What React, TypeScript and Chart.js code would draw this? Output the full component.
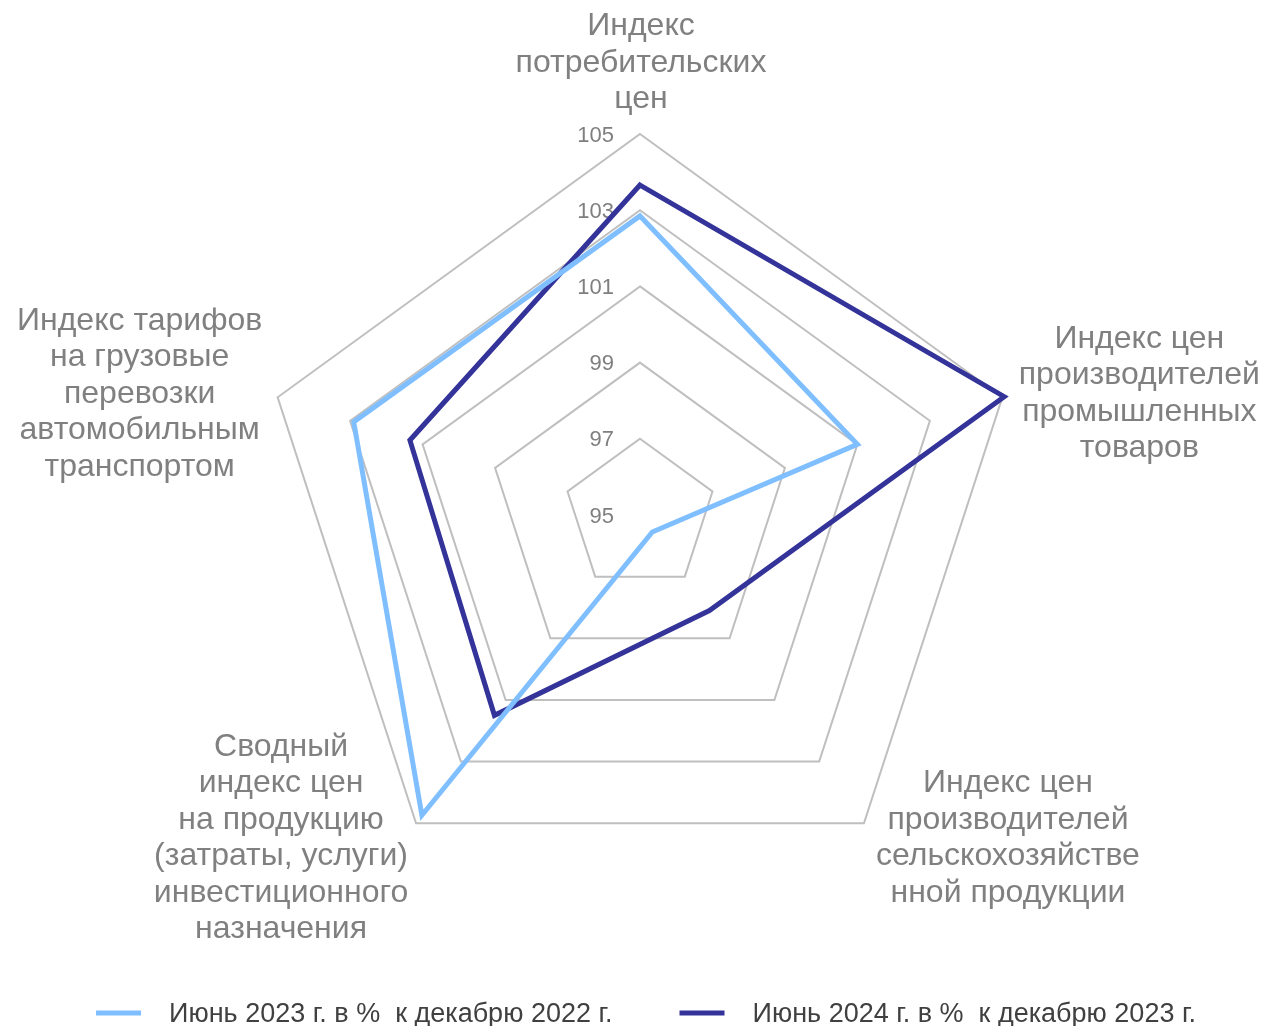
import React, { useEffect, useRef } from "react";
import { Chart, registerables } from "chart.js";

Chart.register(...registerables);

// ---- data ----
const categories: string[][] = [
  ["Индекс", "потребительских", "цен"],
  ["Индекс цен", "производителей", "промышленных", "товаров"],
  ["Индекс цен", "производителей", "сельскохозяйстве", "нной продукции"],
  ["Сводный", "индекс цен", "на продукцию", "(затраты, услуги)", "инвестиционного", "назначения"],
  ["Индекс тарифов", "на грузовые", "перевозки", "автомобильным", "транспортом"],
];
const seriesNames = [
  "Июнь 2023 г. в %  к декабрю 2022 г.",
  "Июнь 2024 г. в %  к декабрю 2023 г.",
];
const june2023 = [102.85, 101.0, 95.55, 104.74, 102.9];
const june2024 = [103.66, 105.05, 98.1, 101.5, 101.35];
const scaleMin = 95;
const scaleMax = 105;
const scaleStep = 2;

// ---- styles ----
const FONT = '"Liberation Sans", Arial, sans-serif';
const COLORS = ["#7FBFFF", "#333399"];
const LABEL_OFFSETS: [number, number][] = [
  [1, -71],
  [137, -3.5],
  [144, 15],
  [-135, 15],
  [-138, -3.5],
];
const LABEL_LH = 36.5;

const customPlugin = {
  id: "customText",
  beforeDatasetsDraw(chart: any) {
    const scale = chart.scales.r;
    const ctx = chart.ctx;
    ctx.save();
    ctx.font = `22px ${FONT}`;
    ctx.fillStyle = "#7F7F7F";
    ctx.textAlign = "right";
    ctx.textBaseline = "middle";
    scale.ticks.forEach((t: any) => {
      const d = scale.getDistanceFromCenterForValue(t.value);
      ctx.fillText(String(t.value), scale.xCenter - 26, scale.yCenter - d + 1.5);
    });
    ctx.restore();
  },
  afterDraw(chart: any) {
    const scale = chart.scales.r;
    const ctx = chart.ctx;
    ctx.save();
    // category labels
    ctx.font = `32px ${FONT}`;
    ctx.fillStyle = "#808080";
    ctx.textAlign = "center";
    ctx.textBaseline = "middle";
    (chart.data.labels as string[][]).forEach((lines, i) => {
      const p = scale.getPointPosition(i, scale.drawingArea);
      const cx = p.x + LABEL_OFFSETS[i][0];
      const cy = p.y + LABEL_OFFSETS[i][1];
      lines.forEach((line, k) => {
        ctx.fillText(line, cx, cy + (k - (lines.length - 1) / 2) * LABEL_LH);
      });
    });
    // legend
    ctx.font = `27px ${FONT}`;
    ctx.textAlign = "left";
    const markerW = 45;
    const gap = 28;
    const itemGap = 67;
    const widths = chart.data.datasets.map((ds: any) => ctx.measureText(ds.label).width);
    const total = widths.reduce((a: number, w: number) => a + markerW + gap + w, 0) + itemGap * (widths.length - 1);
    let x = chart.width / 2 + 13 - total / 2;
    const y = 1015;
    chart.data.datasets.forEach((ds: any, i: number) => {
      ctx.strokeStyle = ds.borderColor;
      ctx.lineWidth = 5;
      ctx.beginPath();
      ctx.moveTo(x, y - 2);
      ctx.lineTo(x + markerW, y - 2);
      ctx.stroke();
      ctx.fillStyle = "#404040";
      ctx.fillText(ds.label, x + markerW + gap, y);
      x += markerW + gap + widths[i] + itemGap;
    });
    ctx.restore();
  },
};

export default function App() {
  const ref = useRef<HTMLCanvasElement | null>(null);
  useEffect(() => {
    if (!ref.current) return;
    const chart = new Chart(ref.current, {
      type: "radar",
      data: {
        labels: categories as any,
        datasets: [
          {
            label: seriesNames[0],
            data: june2023,
            borderColor: COLORS[0],
            backgroundColor: COLORS[0],
            borderWidth: 5,
            pointRadius: 0,
            fill: false,
          },
          {
            label: seriesNames[1],
            data: june2024,
            borderColor: COLORS[1],
            backgroundColor: COLORS[1],
            borderWidth: 5,
            pointRadius: 0,
            fill: false,
          },
        ],
      },
      options: {
        animation: false,
        responsive: false,
        plugins: { legend: { display: false }, tooltip: { enabled: false } },
        elements: { line: { tension: 0, borderJoinStyle: "miter" } },
        scales: {
          r: {
            min: scaleMin,
            max: scaleMax,
            ticks: { stepSize: scaleStep, display: false },
            angleLines: { display: false },
            grid: { color: "#BFBFBF", lineWidth: 2 },
            pointLabels: { display: false },
            afterFit: (s: any) => {
              s.xCenter = 640;
              s.yCenter = 515;
              s.drawingArea = 381;
            },
          } as any,
        },
      },
      plugins: [customPlugin],
    });
    return () => chart.destroy();
  }, []);
  return (
    <div style={{ position: "absolute", left: 0, top: 0, width: 1266, height: 1026, background: "#fff" }}>
      <canvas ref={ref} width={1266} height={1026} style={{ width: 1266, height: 1026, display: "block" }} />
    </div>
  );
}
